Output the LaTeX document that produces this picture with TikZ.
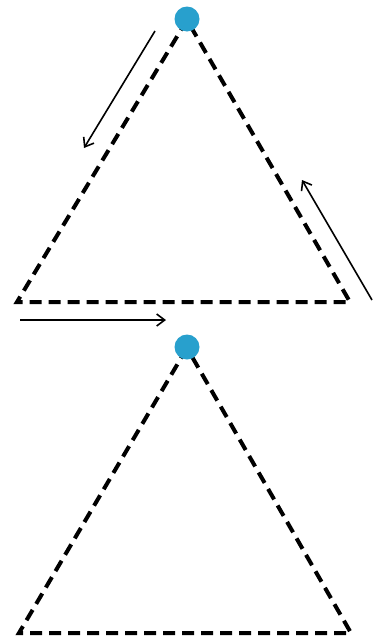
\documentclass[tikz,border=0pt]{standalone}
\usetikzlibrary{arrows.meta}
\begin{document}
\begin{tikzpicture}[x=1pt,y=-1pt,
  edgeline/.style={line width=4pt,dash pattern=on 12pt off 7pt,line join=miter},
  dirarrow/.style={line width=1.6pt,-{Straight Barb[length=8pt,width=12pt]}},
  dot/.style={circle,fill=dotblue,inner sep=0pt,minimum size=25pt}]
\definecolor{dotblue}{RGB}{40,160,205}
\useasboundingbox (0,0) rectangle (384,640);
% top triangle
\coordinate (tA) at (187,20);
\coordinate (tL) at (17,302);
\coordinate (tR) at (350,302);
\draw[edgeline] (tA) -- (tL) -- (tR) -- cycle;
\node[dot] (tdot) at (187,19) {};
% arrows
\coordinate (a1s) at (155,31);
\coordinate (a1e) at (84,148);
\draw[dirarrow] (a1s) -- (a1e);
\coordinate (a2s) at (372,300);
\coordinate (a2e) at (302,180);
\draw[dirarrow] (a2s) -- (a2e);
\coordinate (a3s) at (20,320);
\coordinate (a3e) at (166,320);
\draw[dirarrow] (a3s) -- (a3e);
% bottom triangle
\coordinate (bA) at (187,348);
\coordinate (bL) at (19,633);
\coordinate (bR) at (351,633);
\draw[edgeline] (bA) -- (bL) -- (bR) -- cycle;
\node[dot] (bdot) at (187,347) {};
\end{tikzpicture}
\end{document}
